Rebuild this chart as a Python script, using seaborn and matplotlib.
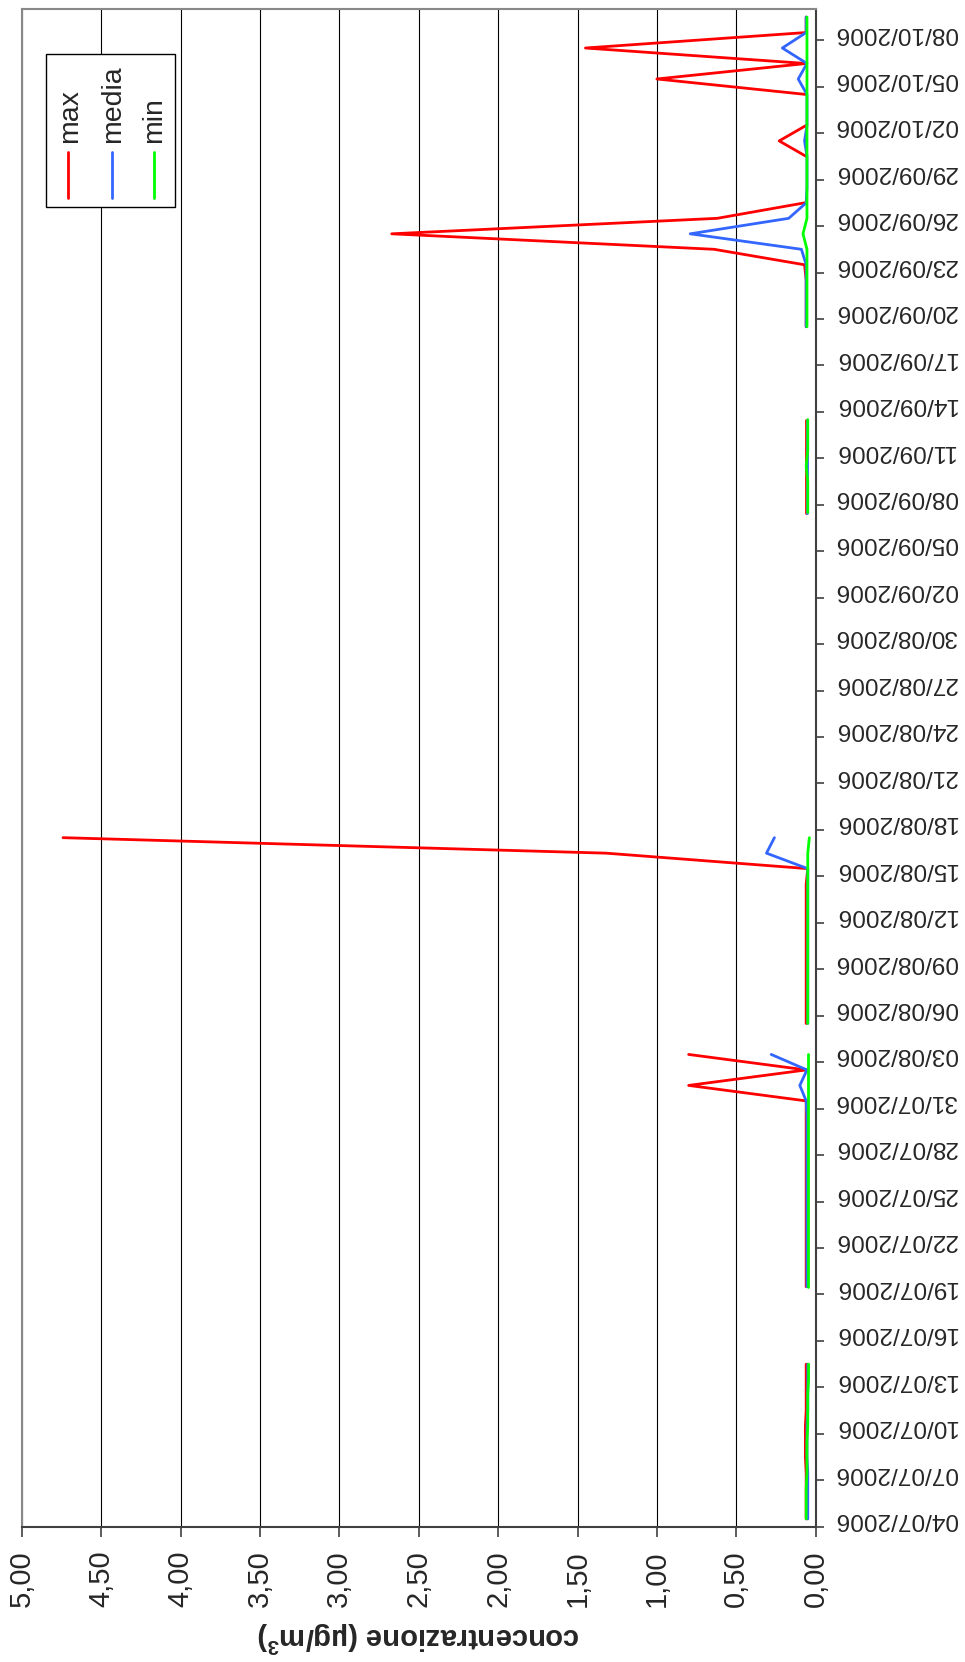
import numpy as np
import pandas as pd
import matplotlib
matplotlib.use('Agg')
import matplotlib.pyplot as plt
import seaborn as sns
from matplotlib.patches import Rectangle
from matplotlib.lines import Line2D

# measurement runs (start date, number of consecutive days)
run_starts = ['04/07/2006', '19/07/2006', '05/08/2006', '07/09/2006', '19/09/2006']
run_lengths = [11, 16, 13, 7, 21]

# concentrations (ug/m3), one value per measured day
max_vals = [0.06, 0.06, 0.06, 0.06, 0.065, 0.065, 0.065, 0.06, 0.06, 0.06, 0.06,
            0.06, 0.06, 0.06, 0.06, 0.06, 0.06, 0.06, 0.06, 0.06, 0.06, 0.06, 0.06, 0.06, 0.80, 0.06, 0.80,
            0.06, 0.06, 0.06, 0.06, 0.06, 0.06, 0.06, 0.06, 0.06, 0.06, 0.05, 1.32, 4.74,
            0.06, 0.06, 0.06, 0.06, 0.06, 0.06, 0.06,
            0.06, 0.06, 0.06, 0.06, 0.07, 0.64, 2.67, 0.62, 0.07, np.nan, np.nan,
            0.06, 0.23, 0.06, np.nan, 0.06, 1.00, 0.06, 1.45, 0.06, 0.06]
media_vals = [0.05, 0.05, 0.05, 0.05, 0.055, 0.055, 0.055, 0.05, 0.05, 0.05, 0.05,
              0.055, 0.055, 0.055, 0.055, 0.055, 0.055, 0.055, 0.055, 0.055, 0.055, 0.055, 0.055, 0.06, 0.10, 0.055, 0.28,
              0.05, 0.05, 0.05, 0.05, 0.05, 0.05, 0.05, 0.05, 0.05, 0.05, 0.05, 0.31, 0.26,
              0.055, 0.055, 0.055, 0.055, 0.055, 0.055, 0.055,
              0.06, 0.06, 0.06, 0.06, 0.06, 0.09, 0.79, 0.17, 0.06, 0.055, 0.055,
              0.055, 0.07, 0.055, 0.055, 0.055, 0.11, 0.055, 0.21, 0.06, 0.06]
min_vals = [0.06, 0.06, 0.06, 0.055, 0.055, 0.055, 0.05, 0.05, 0.05, 0.045, 0.045,
            0.05, 0.05, 0.05, 0.05, 0.05, 0.05, 0.05, 0.05, 0.05, 0.05, 0.05, 0.05, 0.05, 0.05, 0.05, 0.05,
            0.05, 0.05, 0.05, 0.05, 0.05, 0.05, 0.05, 0.05, 0.05, 0.05, 0.05, 0.05, 0.04,
            0.05, 0.05, 0.05, 0.06, 0.05, 0.05, 0.05,
            0.055, 0.055, 0.055, 0.055, 0.055, 0.055, 0.08, 0.055, 0.055, 0.055, 0.055,
            0.055, 0.055, 0.055, 0.055, 0.055, 0.055, 0.055, 0.055, 0.055, 0.055]

series_names = ['max', 'media', 'min']
series_colors = ['#FF0000', '#3366FF', '#00FF00']

axis_start = '04/07/2006'
axis_end = '09/10/2006'
xticks = [0, 0.5, 1, 1.5, 2, 2.5, 3, 3.5, 4, 4.5, 5]

# build long table, splitting each series into continuous runs
t0 = pd.to_datetime(axis_start, dayfirst=True)
dates = pd.DatetimeIndex(np.concatenate([
    pd.date_range(pd.to_datetime(s, dayfirst=True), periods=n, freq='D').values
    for s, n in zip(run_starts, run_lengths)]))
days = (dates - t0).days.values

frames = []
for name, vals in zip(series_names, [max_vals, media_vals, min_vals]):
    sub = pd.DataFrame({'day': days, 'value': vals, 'serie': name}).dropna()
    run = (sub['day'].diff() != 1).cumsum()
    sub['unit'] = name + run.astype(str)
    frames.append(sub)
df = pd.concat(frames, ignore_index=True)

sns.set_theme(style='white')
plt.rcParams['font.family'] = ['Liberation Sans', 'DejaVu Sans']
plt.rcParams['mathtext.fontset'] = 'custom'
plt.rcParams['mathtext.rm'] = 'Liberation Sans'
plt.rcParams['mathtext.bf'] = 'Liberation Sans:bold'

W, H = 965, 1662
fig = plt.figure(figsize=(W / 100, H / 100), dpi=100)
ax = fig.add_axes([21.7 / W, 1 - 1526.7 / H, 794 / W, 1517.4 / H])

sns.lineplot(data=df, x='value', y='day', hue='serie', units='unit', estimator=None,
             orient='y', sort=True, hue_order=series_names,
             palette=dict(zip(series_names, series_colors)), linewidth=2,
             legend=False, ax=ax)

n_days = (pd.to_datetime(axis_end, dayfirst=True) - t0).days
ax.set_xlim(5, 0)
ax.set_ylim(-0.5, n_days + 0.5)

# value axis (bottom)
ax.set_xticks(xticks, labels=[f'{v:.2f}'.replace('.', ',') for v in xticks])
ax.tick_params(axis='x', direction='out', length=7, width=1.2, color='#404040',
               pad=10, labelsize=21, labelrotation=90, bottom=True)
ax.grid(axis='x', color='black', linewidth=0.8)
ax.grid(axis='y', visible=False)

# date axis (right)
tick_days = np.arange(0, n_days, 3)
tick_labels = [(t0 + pd.Timedelta(days=int(d))).strftime('%d/%m/%Y') for d in tick_days]
ax.yaxis.tick_right()
ax.set_yticks(tick_days - 0.5, labels=[''] * len(tick_days))
ax.set_yticks(tick_days, labels=tick_labels, minor=True)
ax.tick_params(axis='y', which='major', direction='out', length=6, width=1.2, color='#404040')
ax.tick_params(axis='y', which='minor', length=0, pad=13.5, labelsize=17.6, labelrotation=180)
for lbl in ax.get_yticklabels(minor=True):
    lbl.set_va('center')

for side in ['left', 'top']:
    ax.spines[side].set_color('#888888')
    ax.spines[side].set_linewidth(1.5)
for side in ['right', 'bottom']:
    ax.spines[side].set_color('#404040')
    ax.spines[side].set_linewidth(1.5)

ax.set_ylabel('')
ax.set_xlabel(r'concentrazione (µg/m$^{\mathbf{3}}$)', fontsize=21, fontweight='bold',
              rotation=180, va='center')
ax.xaxis.set_label_coords(0.5, (H - 1637 - (H - 1526.7)) / 1517.4)

# legend box (rotated)
fig.add_artist(Rectangle((46 / W, 1 - 207 / H), 129 / W, 153 / H, transform=fig.transFigure,
                         facecolor='white', edgecolor='black', linewidth=1, zorder=5))
for lx, tx, name, color in zip([68, 112, 154], [70, 113, 154], series_names, series_colors):
    fig.add_artist(Line2D([lx / W, lx / W], [1 - 198 / H, 1 - 152 / H], transform=fig.transFigure,
                          color=color, linewidth=2, zorder=6))
    fig.text(tx / W, 1 - 143 / H, name, rotation=90, ha='center', va='bottom',
             fontsize=20.5, zorder=6)

fig.savefig('out.png', dpi=100)
